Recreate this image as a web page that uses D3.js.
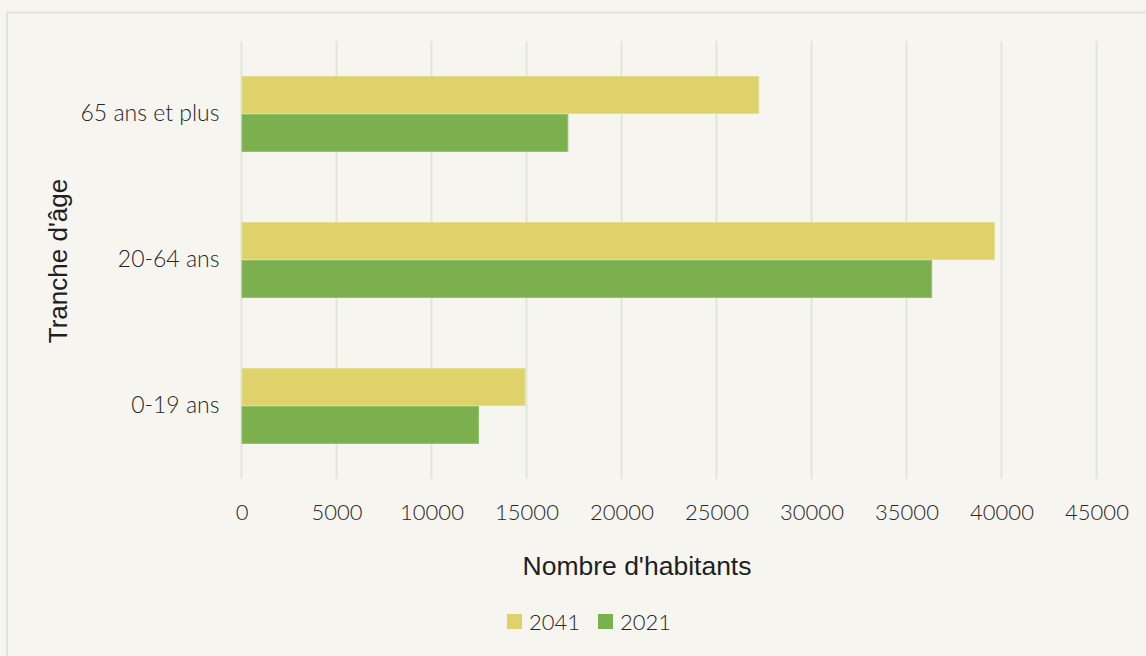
<!DOCTYPE html>
<html>
<head>
<meta charset="utf-8">
<script src="https://cdn.jsdelivr.net/npm/d3@7"></script>
<style>
  body { margin: 0; background: #f6f5f0; }
  .tick text, .cat-label, .legend-label { font-family: Lato, "DejaVu Sans", sans-serif; font-weight: 300; fill: #262626; }
  .axis-title { font-family: "Liberation Sans", Arial, sans-serif; fill: #1f1f1f; }
</style>
</head>
<body>
<div class="chart"></div>
<script>
// age groups, top to bottom
var categories = ["65 ans et plus", "20-64 ans", "0-19 ans"];
var series = ["2041", "2021"];
var values2041 = [27250, 39650, 14950];
var values2021 = [17200, 36350, 12500];
var xTicks = [0, 5000, 10000, 15000, 20000, 25000, 30000, 35000, 40000, 45000];
var colors = { "2041": "#e0d26b", "2021": "#7caf4e" };
var strokes = { "2041": "#e6dc8a", "2021": "#93c06a" };

var svgWidth = 1146;
var svgHeight = 656;
var margin = { top: 41, left: 241.5, right: 49.5, bottom: 177 };
var width = svgWidth - margin.left - margin.right;
var height = svgHeight - margin.top - margin.bottom;

var svg = d3.select(".chart")
    .append("svg")
    .attr("width", svgWidth)
    .attr("height", svgHeight);

// background + frame
svg.append("rect")
    .attr("width", svgWidth)
    .attr("height", svgHeight)
    .attr("fill", "#f6f5f0");
svg.append("rect")
    .attr("x", 7)
    .attr("y", 12.5)
    .attr("width", svgWidth + 20)
    .attr("height", svgHeight + 20)
    .attr("fill", "none")
    .attr("stroke", "#dde6d5")
    .attr("stroke-width", 2);

var chartGroup = svg.append("g")
    .attr("transform", `translate(${margin.left}, ${margin.top})`);

var xScale = d3.scaleLinear()
    .domain([0, 45000])
    .range([0, width]);

var yScale = d3.scaleBand()
    .domain(categories)
    .range([0, height])
    .paddingInner(0.48)
    .paddingOuter(0.24);

var inner = d3.scaleBand()
    .domain(series)
    .range([0, yScale.bandwidth()]);

// gridlines
chartGroup.selectAll(".grid")
    .data(xTicks)
    .enter()
    .append("line")
    .attr("x1", d => xScale(d))
    .attr("x2", d => xScale(d))
    .attr("y1", 0)
    .attr("y2", height)
    .attr("stroke", "#dfe7d6")
    .attr("stroke-width", 2);

// x axis
var bottomAxis = d3.axisBottom(xScale)
    .tickValues(xTicks)
    .tickSize(0)
    .tickPadding(25)
    .tickFormat(d3.format("d"));
var xAxisG = chartGroup.append("g")
    .attr("transform", `translate(0, ${height})`)
    .call(bottomAxis);
xAxisG.select(".domain").remove();
xAxisG.selectAll("text").attr("font-size", 22);

// category labels
var leftAxis = d3.axisLeft(yScale)
    .tickSize(0)
    .tickPadding(22);
var yAxisG = chartGroup.append("g").call(leftAxis);
yAxisG.select(".domain").remove();
yAxisG.selectAll("text").attr("font-size", 23);

// bars
var rows = categories.map((c, i) => ({ cat: c, "2041": values2041[i], "2021": values2021[i] }));
series.forEach(function (s) {
    chartGroup.selectAll(".bar-" + s)
        .data(rows)
        .enter()
        .append("rect")
        .attr("x", xScale(0) + 0.5)
        .attr("y", d => yScale(d.cat) + inner(s) + 0.5)
        .attr("width", d => xScale(d[s]) - xScale(0) - 1)
        .attr("height", inner.bandwidth() - 1)
        .attr("fill", colors[s])
        .attr("stroke", strokes[s])
        .attr("stroke-width", 1);
});

// axis titles
svg.append("text")
    .attr("class", "axis-title")
    .attr("x", margin.left + width / 2 - 32)
    .attr("y", 575)
    .attr("text-anchor", "middle")
    .attr("font-size", 26.5)
    .text("Nombre d'habitants");

svg.append("text")
    .attr("class", "axis-title")
    .attr("transform", `translate(67, 261) rotate(-90)`)
    .attr("text-anchor", "middle")
    .attr("font-size", 26)
    .text("Tranche d'âge");

// legend
var legendItems = [{ s: "2041", x: 507 }, { s: "2021", x: 598 }];
var legend = svg.append("g");
legendItems.forEach(function (d) {
    legend.append("rect")
        .attr("x", d.x)
        .attr("y", 614)
        .attr("width", 15)
        .attr("height", 15)
        .attr("fill", colors[d.s]);
    legend.append("text")
        .attr("class", "legend-label")
        .attr("x", d.x + 22)
        .attr("y", 630)
        .attr("font-size", 22)
        .text(d.s);
});
</script>
</body>
</html>
